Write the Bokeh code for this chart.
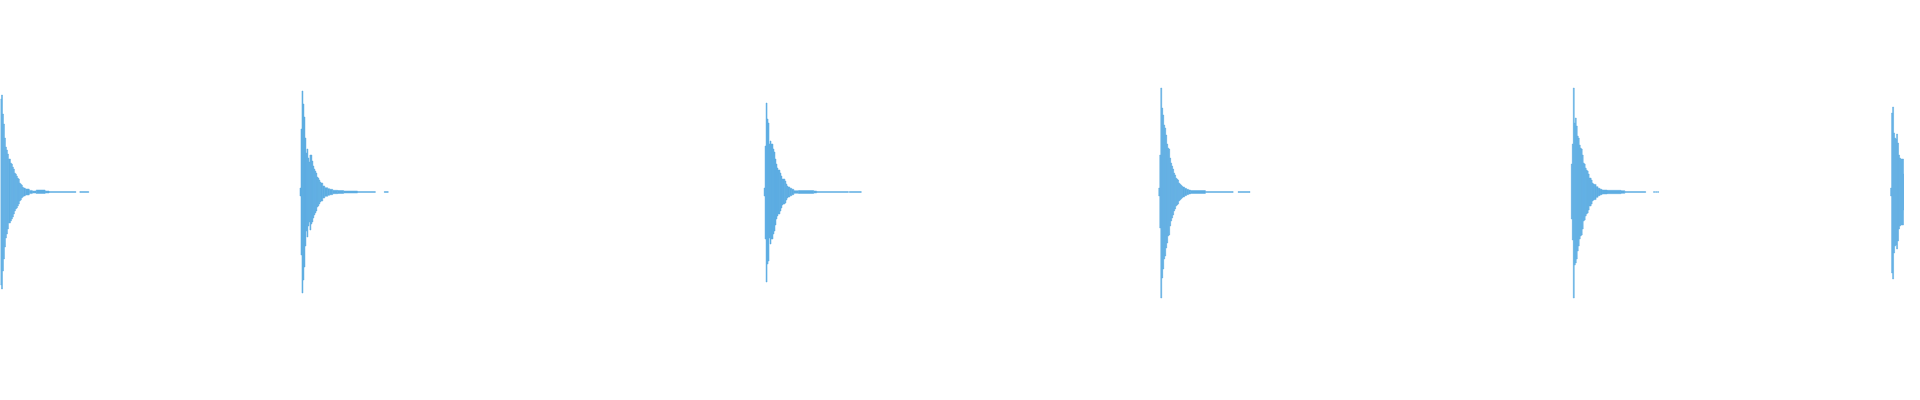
from bokeh.plotting import figure
from bokeh.models import ColumnDataSource, Range1d
from bokeh.embed import file_html
from bokeh.resources import INLINE

# waveform envelope columns: onset column of each hit, then runs of
# (start offset, end offset, upper amplitude, lower amplitude) in % of full scale
onsets = [0, 302, 770, 1168, 1584, 1906]

hit1 = [(0, 1, 93, 93), (1, 2, 97, 97), (2, 3, 78, 79), (3, 4, 68, 67), (4, 5, 54, 55),
        (5, 6, 45, 46), (6, 7, 42, 42), (7, 8, 38, 37), (8, 10, 33, 31), (10, 11, 29, 29),
        (11, 12, 28, 27), (12, 13, 25, 25), (13, 14, 23, 22), (14, 15, 19, 19), (15, 16, 18, 17),
        (16, 17, 16, 16), (17, 18, 14, 14), (18, 19, 13, 12), (19, 20, 9, 9), (20, 21, 8, 8),
        (21, 22, 7, 6), (22, 23, 5, 5), (23, 25, 4, 4), (25, 29, 3, 3), (29, 32, 1.6, 1.6),
        (32, 36, 1, 1), (36, 45, 2, 1.5), (45, 49, 1, 1), (49, 76, 0.5, 0.5), (80, 89, 0.5, 0.5)]

hit2 = [(0, 1, 4, 4), (1, 2, 63, 63), (2, 3, 101, 101), (3, 4, 88, 88), (4, 5, 75, 75),
        (5, 6, 54, 54), (6, 7, 39, 39), (7, 8, 43, 45), (8, 9, 34, 34), (9, 10, 30, 30),
        (10, 11, 37, 38), (11, 12, 37, 32), (12, 13, 31, 30), (13, 14, 26, 26), (14, 15, 23, 23),
        (15, 16, 21, 21), (16, 17, 19, 19), (17, 18, 15, 15), (18, 19, 14, 14), (19, 20, 12, 12),
        (20, 21, 10, 10), (21, 23, 9, 9), (23, 25, 6, 6), (25, 28, 4.3, 4.3), (28, 30, 3.3, 3.3),
        (30, 33, 2.7, 2.7), (33, 38, 1.7, 1.7), (38, 44, 1.5, 1.5), (44, 58, 1, 1),
        (58, 76, 0.5, 0.5), (85, 89, 0.5, 0.5)]

hit3 = [(0, 1, 4, 4), (1, 2, 46, 47), (2, 3, 89, 90), (3, 4, 73, 72), (4, 5, 69, 69),
        (5, 6, 48, 46), (6, 7, 51, 52), (7, 8, 48, 47), (8, 9, 48, 47), (9, 10, 43, 42),
        (10, 11, 40, 39), (11, 12, 33, 33), (12, 13, 28, 27), (13, 14, 24, 24), (14, 16, 22, 22),
        (16, 17, 19, 19), (17, 18, 16, 16), (18, 19, 13, 13), (19, 21, 13, 12), (21, 22, 11, 11),
        (22, 23, 8, 8), (23, 24, 6, 6), (24, 26, 5, 5), (26, 28, 3.7, 3.7), (28, 30, 2.7, 2.7),
        (30, 35, 1.3, 1.3), (35, 50, 1.5, 1.5), (50, 53, 1, 1), (53, 85, 0.5, 0.5),
        (86, 98, 0.5, 0.5)]

hit4 = [(0, 1, 4, 4), (1, 2, 37, 36), (2, 3, 104, 106), (3, 4, 84, 86), (4, 5, 77, 77),
        (5, 6, 67, 67), (6, 7, 64, 64), (7, 8, 57, 56), (8, 9, 48, 51), (9, 10, 44, 44),
        (10, 11, 43, 43), (11, 12, 34, 34), (12, 13, 29, 29), (13, 14, 26, 26), (14, 15, 23, 23),
        (15, 16, 19, 19), (16, 17, 17, 17), (17, 18, 14, 14), (18, 19, 13, 13), (19, 20, 12, 12),
        (20, 21, 9, 9), (21, 22, 8, 8), (22, 23, 7, 7), (23, 24, 6, 6), (24, 26, 5, 5),
        (26, 28, 3.7, 3.7), (28, 30, 2.7, 2.7), (30, 32, 2, 2), (32, 47, 1.5, 1.5),
        (47, 75, 0.5, 0.5), (80, 92, 0.5, 0.5)]

hit5 = [(0, 1, 28, 27), (1, 2, 48, 48), (2, 3, 104, 106), (3, 4, 69, 73), (4, 5, 74, 71),
        (5, 6, 66, 67), (6, 7, 56, 59), (7, 8, 54, 54), (8, 9, 47, 47), (9, 10, 44, 44),
        (10, 11, 43, 43), (11, 12, 37, 37), (12, 13, 29, 29), (13, 14, 28, 28), (14, 15, 24, 24),
        (15, 16, 22, 22), (16, 17, 21, 21), (17, 18, 18, 18), (18, 19, 14, 14), (19, 20, 14, 14),
        (20, 21, 12, 12), (21, 22, 9, 9), (22, 23, 8, 8), (23, 25, 7.6, 7.6), (25, 27, 5.3, 5.3),
        (27, 29, 3.7, 3.7), (29, 31, 2.7, 2.7), (31, 36, 2, 2), (36, 50, 1.7, 1.7),
        (50, 54, 1.3, 1.3), (54, 75, 0.5, 0.5), (83, 84, 0.5, 0.5), (85, 86, 0.5, 0.5),
        (87, 88, 0.5, 0.5)]

hit6 = [(0, 1, 4, 4), (1, 2, 79, 81), (2, 3, 85, 87), (3, 4, 59, 61), (4, 5, 54, 54),
        (5, 6, 53, 53), (6, 7, 58, 57), (7, 8, 49, 49), (8, 9, 37, 37), (9, 10, 34, 34),
        (10, 11, 33, 33), (11, 12, 33, 33), (12, 13, 33, 33), (13, 14, 18, 18)]

hits = [hit1, hit2, hit3, hit4, hit5, hit6]
wave_color = "#5DADE2"

left, right, top, bottom = [], [], [], []
for onset, runs in zip(onsets, hits):
    for s, e, up, dn in runs:
        left.append(onset + s)
        right.append(onset + e)
        top.append(up / 100.0)
        bottom.append(-dn / 100.0)

src = ColumnDataSource(dict(left=left, right=right, top=top, bottom=bottom))

p = figure(width=1904, height=384, output_backend="svg", toolbar_location=None,
           x_range=Range1d(0, 1920), y_range=Range1d(-1.925, 1.915),
           min_border=0, min_border_left=0, min_border_right=0,
           min_border_top=0, min_border_bottom=0)
p.axis.visible = False
p.xgrid.visible = False
p.ygrid.visible = False
p.outline_line_color = None
p.background_fill_color = "white"
p.border_fill_color = "white"

p.quad(left="left", right="right", top="top", bottom="bottom", source=src,
       fill_color=wave_color, line_color=wave_color, line_width=0.5)

open("out.html", "w").write(file_html(p, INLINE))
